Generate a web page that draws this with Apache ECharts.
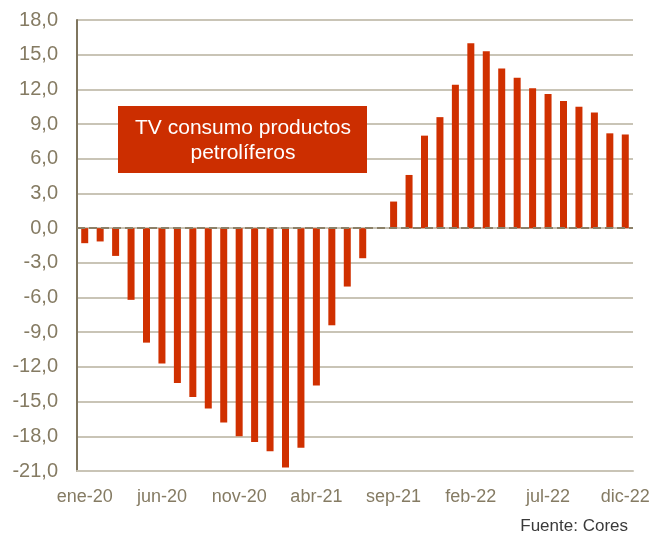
<!DOCTYPE html>
<html>
<head>
<meta charset="utf-8">
<script src="https://cdn.jsdelivr.net/npm/echarts@6/dist/echarts.min.js"></script>
<style>
	html, body { margin: 0; padding: 0; background: #fff; }
	#chart { width: 655px; height: 535px; }
</style>
</head>
<body>
<div id="chart"></div>
<script>
	// meses ene-20 .. dic-22
	const meses = ['ene', 'feb', 'mar', 'abr', 'may', 'jun', 'jul', 'ago', 'sep', 'oct', 'nov', 'dic'];
	const anios = ['20', '21', '22'];
	const categorias = [];
	anios.forEach(a => {
		meses.forEach(m => {
			categorias.push(m + '-' + a);
		});
	});
	// tasa de variacion consumo productos petroliferos
	const tv = [
		-1.3, -1.15, -2.4, -6.2, -9.9, -11.7, -13.4, -14.6, -15.6, -16.8, -18.0, -18.5,
		-19.3, -20.7, -19.0, -13.6, -8.4, -5.05, -2.6, 0, 2.3, 4.6, 8.0, 9.6,
		12.4, 16.0, 15.3, 13.8, 13.0, 12.1, 11.6, 11.0, 10.5, 10.0, 8.2, 8.1
	];
	const yMin = -21;
	const yMax = 18;
	const yPaso = 3;

	let chart = echarts.init(document.getElementById('chart'));
	const option = {
		animation: false,
		grid: {
			left: 77,
			right: 22,
			top: 20,
			bottom: 64
		},
		xAxis: {
			type: 'category',
			data: categorias,
			boundaryGap: true,
			axisLine: {
				onZero: false,
				lineStyle: { color: '#c9c4b6', width: 2 }
			},
			axisTick: { show: false },
			axisLabel: {
				interval: 4,
				color: '#857b63',
				fontFamily: 'Liberation Sans, Arial',
				fontSize: 18,
				margin: 17
			}
		},
		yAxis: {
			type: 'value',
			min: yMin,
			max: yMax,
			interval: yPaso,
			axisLine: {
				show: true,
				lineStyle: { color: '#7f765f', width: 2 }
			},
			axisTick: { show: false },
			splitLine: {
				lineStyle: { color: '#c9c4b6', width: 2 }
			},
			axisLabel: {
				color: '#857b63',
				fontFamily: 'Liberation Sans, Arial',
				fontSize: 20,
				margin: 19,
				formatter: v => v.toFixed(1).replace('.', ',')
			}
		},
		series: [
			{
				type: 'bar',
				data: tv,
				barWidth: 7,
				itemStyle: { color: '#d03000' },
				markLine: {
					silent: true,
					symbol: 'none',
					label: { show: false },
					lineStyle: { color: '#8b8068', type: [8, 4], width: 2 },
					data: [{ yAxis: 0 }]
				}
			}
		],
		graphic: [
			{
				type: 'rect',
				z: 100,
				left: 118,
				top: 106,
				shape: { width: 249, height: 67 },
				style: { fill: '#cc2e00' }
			},
			{
				type: 'text',
				z: 101,
				x: 243,
				y: 116,
				style: {
					text: 'TV consumo productos\npetrolíferos',
					fill: '#fff',
					font: '21px "Liberation Sans", Arial',
					align: 'center',
					lineHeight: 25
				}
			},
			{
				type: 'text',
				z: 101,
				right: 27,
				top: 518,
				style: {
					text: 'Fuente: Cores',
					fill: '#3a3a3a',
					font: '17px "Liberation Sans", Arial'
				}
			}
		]
	};
	chart.setOption(option);
	window.addEventListener('resize', () => {
		chart.resize();
	});
</script>
</body>
</html>
